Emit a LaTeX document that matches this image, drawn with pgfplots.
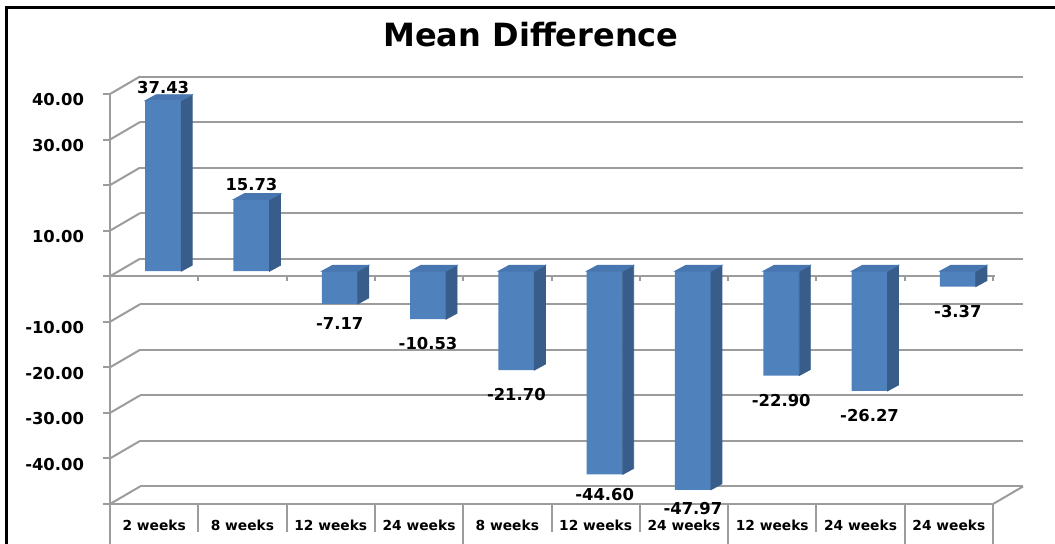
\documentclass[border=0pt]{standalone}
\usepackage{pgfplots}
\pgfplotsset{compat=1.18}
\usepackage{pgfplotstable}
\usepackage{fontspec}
\setmainfont{DejaVu Sans}
\definecolor{barfront}{HTML}{4F81BD}
\definecolor{barside}{HTML}{385D8A}
\definecolor{bartop}{HTML}{4876B0}
\definecolor{gridgray}{HTML}{9C9C9C}
\pgfplotstableread{
x v lab off
0 37.43 37.43 9
1 15.73 15.73 10
2 -7.17 -7.17 -7.2
3 -10.53 -10.53 -9.6
4 -21.70 -21.70 -9.7
5 -44.60 -44.60 -7.5
6 -47.97 -47.97 -7
7 -22.90 -22.90 -10
8 -26.27 -26.27 -10
9 -3.37 -3.37 -10
}\datatable
\begin{document}
\begin{tikzpicture}
\useasboundingbox (0,0) rectangle (527.5pt,-272pt);
\draw[black, line width=1.5pt] (3.25pt,-280pt) -- (3.25pt,-4pt) -- (530pt,-4pt);
\node[font=\bfseries\fontsize{16}{19}\selectfont] at (265.5pt,-17.5pt) {Mean Difference};
\begin{axis}[
  at={(55pt,-252pt)}, anchor=south west,
  scale only axis, width=441.5pt, height=205pt,
  xmin=-0.5, xmax=9.5, ymin=-50, ymax=40,
  clip=false,
  axis lines*=left,
  axis line style={-, draw=gridgray, line width=1pt},
  ytick={-50,-40,-30,-20,-10,0,10,20,30,40},
  yticklabels={,-40.00,-30.00,-20.00,-10.00,,10.00,,30.00,40.00},
  xtick={0,...,9},
  xticklabels={2 weeks,8 weeks,12 weeks,24 weeks,8 weeks,12 weeks,24 weeks,12 weeks,24 weeks,24 weeks},
  xtick style={draw=none},
  ytick style={draw=gridgray, line width=1pt},
  ytick align=outside, major tick length=3.5pt,
  ymajorgrids,
  major grid style={draw=gridgray, line width=1pt, xshift=15pt, yshift=8.75pt},
  yticklabel style={font=\bfseries\fontsize{8.2}{9}\selectfont, anchor=east, xshift=-6pt, yshift=-3pt},
  xticklabel style={font=\bfseries\fontsize{6.9}{8}\selectfont, anchor=center, yshift=-10.5pt},
]
% diagonal stubs from front axis to back wall
\pgfplotsinvokeforeach{-50,-40,-30,-20,-10,0,10,20,30,40}{
  \draw[gridgray, line width=1pt] (axis cs:-0.5,#1) -- ++(15pt,8.75pt);
}
\draw[gridgray, line width=1pt] (axis cs:9.5,-50) -- ++(15pt,8.75pt);
% y axis extension into category boxes
\draw[gridgray, line width=1pt] (axis cs:-0.5,-50) -- ++(0pt,-25pt);
% category separators
\pgfplotsinvokeforeach{0.5,1.5,2.5,4.5,5.5,7.5}{
  \draw[gridgray, line width=1pt] (axis cs:#1,-50) -- ++(0pt,-14pt);
}
\pgfplotsinvokeforeach{3.5,6.5,8.5,9.5}{
  \draw[gridgray, line width=1pt] (axis cs:#1,-50) -- ++(0pt,-25pt);
}
% front zero line with ticks
\draw[gridgray, line width=1pt] (axis cs:-0.5,0) -- ([xshift=1pt]axis cs:9.5,0);
\pgfplotsinvokeforeach{0.5,1.5,2.5,3.5,4.5,5.5,6.5,7.5,8.5,9.5}{
  \draw[gridgray, line width=1pt] (axis cs:#1,0) -- ++(0pt,-2.5pt);
}
% side and top faces
\addplot[scatter, only marks, mark=*, mark size=0pt, mark options={draw=none,fill=none},
  visualization depends on={\thisrow{v} \as \rawv},
  scatter/@pre marker code/.code={%
    \pgfmathsetmacro\hh{(\rawv)*2.277778}%
    \pgfmathsetmacro\yb{2.5-(\hh)}%
    \pgfmathsetmacro\ybb{5.5-(\hh)}%
    \pgfmathsetmacro\topT{2.5+max(0,-(\hh))}%
    \pgfmathsetmacro\topTT{\topT+3}%
    \fill[barside] (13.5pt,2.5pt) -- (19pt,5.5pt) -- (19pt,\ybb pt) -- (13.5pt,\yb pt) -- cycle;
    \fill[bartop] (-4.5pt,\topT pt) -- (13.5pt,\topT pt) -- (19pt,\topTT pt) -- (1pt,\topTT pt) -- cycle;
  },
  scatter/@post marker code/.code={},
] table[x=x,y=v] {\datatable};
% front faces
\addplot[ybar, bar width=18pt, bar shift=4.5pt, fill=barfront, draw=none, yshift=2.5pt]
  table[x=x,y=v] {\datatable};
% value labels
\addplot[draw=none, mark=none,
  nodes near coords, point meta=explicit symbolic,
  visualization depends on={\thisrow{off} \as \off},
  every node near coord/.append style={anchor=center, xshift=4.5pt, yshift=\off pt,
    font=\bfseries\fontsize{8.2}{9}\selectfont, text=black},
] table[x=x,y=v,meta=lab] {\datatable};
\end{axis}
\end{tikzpicture}
\end{document}
